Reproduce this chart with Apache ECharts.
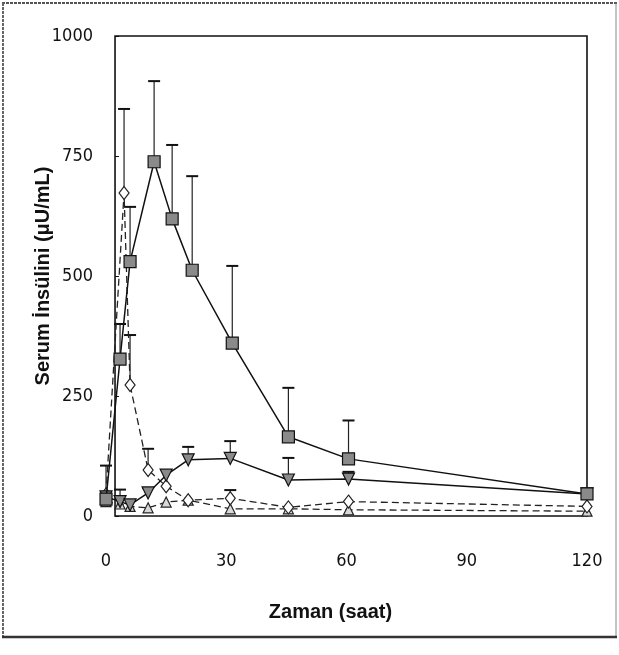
<!DOCTYPE html>
<html><head><meta charset="utf-8">
<script src="https://cdn.jsdelivr.net/npm/echarts@6/dist/echarts.min.js"></script>
<style>html,body{margin:0;padding:0;background:#fff}#c{width:619px;height:655px}</style>
</head><body><div id="c"></div>
<script>
// ---- data ----
const xTicks = [0, 30, 60, 90, 120];
const yTicks = [0, 250, 500, 750, 1000];

// filled squares, solid line
const sqTime = [0, 3.5, 6, 12, 16.5, 21.5, 31.5, 45.5, 60.5, 120];
const sqVal  = [35, 327, 530, 738, 619, 512, 360, 165, 119, 46];
const sqErr  = [105, 400, 644, 906, 773, 708, 521, 267, 199, null];

// filled inverted triangles, solid line
const dnTime = [0, 3.5, 6, 10.5, 15, 20.5, 31, 45.5, 60.5, 120];
const dnVal  = [40, 30, 23, 48, 85, 117, 120, 75, 77, 46];
const dnErr  = [null, 55, null, 58, null, 144, 156, 121, 92, null];

// open diamonds, dashed line
const diaTime = [0, 4.5, 6, 10.5, 15, 20.5, 31, 45.5, 60.5, 120];
const diaVal  = [45, 673, 273, 96, 62, 33, 37, 18, 30, 20];
const diaErr  = [null, 848, 377, 140, null, null, null, null, null, null];

// open triangles, dashed line
const upTime = [0, 3.5, 6, 10.5, 15, 20.5, 31, 45.5, 60.5, 120];
const upVal  = [30, 25, 20, 17, 29, 33, 15, 15, 13, 10];
const upErr  = [null, null, null, null, null, null, 54, null, null, null];

// ---- layout constants ----
const FRAME_LEFT_T = 2.25;   // plot frame starts slightly right of t = 0
const X_MIN = -2, X_MAX = 120, Y_MIN = 0, Y_MAX = 1000;

const zip = (a, b) => a.map((v, i) => [v, b[i]]);

function errSeries(times, vals, errs) {
  const data = [];
  times.forEach((t, i) => { if (errs[i] != null) data.push([t, vals[i], errs[i]]); });
  return {
    type: 'custom', data, z: 1, silent: true, encode: { x: 0, y: 1 },
    renderItem(params, api) {
      const p0 = api.coord([api.value(0), api.value(1)]);
      const p1 = api.coord([api.value(0), api.value(2)]);
      return { type: 'group', children: [
        { type: 'line', shape: { x1: p0[0], y1: p0[1], x2: p1[0], y2: p1[1] }, style: { stroke: '#222', lineWidth: 1.2 } },
        { type: 'line', shape: { x1: p1[0] - 6, y1: p1[1], x2: p1[0] + 6, y2: p1[1] }, style: { stroke: '#111', lineWidth: 2 } }
      ]};
    }
  };
}

const tickFont = { fontFamily: 'DejaVu Sans Condensed, Liberation Sans Narrow, Liberation Sans, sans-serif', fontSize: 18, color: '#111' };
const titleFont = { fontFamily: 'Liberation Sans, sans-serif', fontSize: 20, fontWeight: 'bold', color: '#111' };

const chart = echarts.init(document.getElementById('c'), null, { renderer: 'canvas' });
chart.setOption({
  animation: false,
  backgroundColor: '#fff',
  grid: { left: 98, right: 32, top: 36, bottom: 139 },
  xAxis: {
    type: 'value', min: X_MIN, max: X_MAX,
    axisLine: { show: false }, axisTick: { show: false }, splitLine: { show: false },
    axisLabel: Object.assign({ margin: 36, customValues: xTicks, formatter: v => String(v) }, tickFont),
    name: 'Zaman (saat)', nameLocation: 'middle', nameGap: 86, nameMoveOverlap: false,
    nameTextStyle: Object.assign({ padding: [0, 24, 0, 0] }, titleFont)
  },
  yAxis: {
    type: 'value', min: Y_MIN, max: Y_MAX, offset: -17,
    axisLine: { show: false, onZero: false },
    axisTick: { show: true, inside: true, length: 4, lineStyle: { color: '#111' }, customValues: yTicks },
    splitLine: { show: false },
    axisLabel: Object.assign({ margin: 22, customValues: yTicks, formatter: v => String(v) }, tickFont),
    name: 'Serum İnsülini (μU/mL)', nameLocation: 'middle', nameGap: 62, nameRotate: 90, nameMoveOverlap: false,
    nameTextStyle: titleFont
  },
  graphic: [
    { type: 'line', shape: { x1: 2, y1: 3, x2: 617, y2: 3 }, style: { stroke: '#555', lineWidth: 2, lineDash: [3, 1] } },
    { type: 'line', shape: { x1: 3, y1: 3, x2: 3, y2: 637 }, style: { stroke: '#666', lineWidth: 2, lineDash: [3, 1] } },
    { type: 'line', shape: { x1: 616, y1: 3, x2: 616, y2: 637 }, style: { stroke: '#888', lineWidth: 1 } },
    { type: 'line', shape: { x1: 2, y1: 637, x2: 617, y2: 637 }, style: { stroke: '#333', lineWidth: 2.5 } }
  ],
  series: [
    {
      type: 'line', data: zip(upTime, upVal), z: 3, symbol: 'triangle', symbolSize: 10,
      lineStyle: { color: '#222', width: 1.3, type: [7, 4] },
      itemStyle: { color: '#d8d8d8', borderColor: '#222', borderWidth: 1.2 },
      markArea: {
        silent: true,
        itemStyle: { color: 'rgba(0,0,0,0)', borderColor: '#111', borderWidth: 1.6 },
        data: [[{ coord: [FRAME_LEFT_T, Y_MIN] }, { coord: [X_MAX, Y_MAX] }]]
      }
    },
    {
      type: 'line', data: zip(diaTime, diaVal), z: 3, symbol: 'diamond', symbolSize: [10, 13],
      lineStyle: { color: '#222', width: 1.3, type: [7, 4] },
      itemStyle: { color: '#fff', borderColor: '#222', borderWidth: 1.2 }
    },
    {
      type: 'line', data: zip(dnTime, dnVal), z: 4, symbol: 'triangle', symbolRotate: 180, symbolSize: 12,
      lineStyle: { color: '#111', width: 1.5 },
      itemStyle: { color: '#8a8a8a', borderColor: '#111', borderWidth: 1.2 }
    },
    {
      type: 'line', data: zip(sqTime, sqVal), z: 5, symbol: 'rect', symbolSize: 12,
      lineStyle: { color: '#111', width: 1.5 },
      itemStyle: { color: '#8a8a8a', borderColor: '#111', borderWidth: 1.2 }
    },
    errSeries(sqTime, sqVal, sqErr),
    errSeries(dnTime, dnVal, dnErr),
    errSeries(diaTime, diaVal, diaErr),
    errSeries(upTime, upVal, upErr)
  ]
});
</script>
</body></html>
